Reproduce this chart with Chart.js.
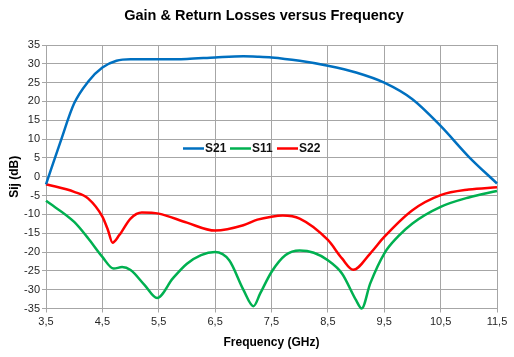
<!DOCTYPE html>
<html>
<head>
<meta charset="utf-8">
<script src="https://cdn.jsdelivr.net/npm/chart.js@4/dist/chart.umd.min.js"></script>
<style>
html,body{margin:0;padding:0;background:#fff;}
#wrap{width:514px;height:357px;}
</style>
</head>
<body>
<div id="wrap"><canvas id="c" width="514" height="357"></canvas></div>
<script>
const titleText = "Gain & Return Losses versus Frequency";
const xTitle = "Frequency (GHz)";
const yTitle = "Sij (dB)";
const seriesNames = ["S21", "S11", "S22"];
const seriesColors = ["#0070C0", "#00B050", "#FF0000"];

const s21Freq = [3.5, 3.75, 4.0, 4.25, 4.5, 4.75, 5.0, 5.5, 6.0, 6.5, 7.0, 7.25, 7.5, 8.0, 8.5, 9.0, 9.5, 10.0, 10.5, 11.0, 11.5];
const s21Vals = [-2, 9, 19.5, 25.3, 29, 30.8, 31.2, 31.2, 31.3, 31.7, 32, 31.9, 31.7, 30.8, 29.5, 27.7, 25, 20.6, 13.5, 5.3, -1.8];

const s11Freq = [3.5, 4.0, 4.25, 4.5, 4.7, 4.85, 5.0, 5.25, 5.47, 5.75, 6.0, 6.25, 6.5, 6.75, 7.0, 7.18, 7.3, 7.5, 7.75, 8.0, 8.25, 8.5, 8.75, 9.0, 9.1, 9.25, 9.5, 9.75, 10.0, 10.5, 11.0, 11.5];
const s11Vals = [-6.4, -12, -16.4, -21.3, -24.4, -24.0, -24.8, -28.8, -32.2, -27, -23.1, -20.8, -20, -22.2, -30, -34.4, -31, -25.3, -20.8, -19.6, -20.2, -22.2, -25.7, -32.8, -35, -28.4, -20.4, -15.8, -12.4, -8, -5.5, -3.8];

const s22Freq = [3.5, 4.0, 4.25, 4.5, 4.6, 4.68, 4.8, 5.0, 5.2, 5.5, 6.0, 6.5, 7.0, 7.25, 7.5, 7.7, 8.0, 8.5, 8.75, 8.95, 9.25, 9.5, 10.0, 10.5, 11.0, 11.5];
const s22Vals = [-2, -4, -5.8, -10.6, -14.2, -17.5, -15.5, -11.1, -9.5, -9.8, -12.2, -14.3, -12.9, -11.4, -10.6, -10.3, -11.1, -16.8, -21.7, -24.7, -20.4, -16, -8.9, -4.9, -3.4, -2.8];

const xMin = 3.5, xMax = 11.5, xStep = 1;
const yMin = -35, yMax = 35, yStep = 5;
const legendLevel = 7.6;

function pts(fs, vs){ return fs.map((f,i)=>({x:f, y:vs[i]})); }

const titleAndLegend = {
  id: 'titleAndLegend',
  afterDatasetsDraw(chart){
    const ctx = chart.ctx;
    ctx.save();
    // title
    ctx.font = 'bold 14.5px "Liberation Sans", Arial, sans-serif';
    ctx.fillStyle = '#000';
    ctx.textAlign = 'center';
    ctx.textBaseline = 'middle';
    ctx.fillText(titleText, 264, 16);
    // inline legend
    const ys = Math.round(chart.scales.y.getPixelForValue(legendLevel)) + 0.5;
    let x = 183;
    ctx.font = 'bold 12px "Liberation Sans", Arial, sans-serif';
    ctx.textAlign = 'left';
    chart.data.datasets.forEach(ds => {
      ctx.strokeStyle = ds.borderColor;
      ctx.lineWidth = 2.5;
      ctx.beginPath();
      ctx.moveTo(x, ys);
      ctx.lineTo(x + 21, ys);
      ctx.stroke();
      ctx.fillStyle = '#111';
      ctx.fillText(ds.label, x + 22, ys + 0.5);
      x += 47;
    });
    ctx.restore();
  }
};

const datasets = [
  {label: seriesNames[0], data: pts(s21Freq, s21Vals), borderColor: seriesColors[0]},
  {label: seriesNames[1], data: pts(s11Freq, s11Vals), borderColor: seriesColors[1]},
  {label: seriesNames[2], data: pts(s22Freq, s22Vals), borderColor: seriesColors[2]}
].map(d => Object.assign(d, {borderWidth: 2.5, pointRadius: 0, fill: false, cubicInterpolationMode: 'monotone', clip: 3}));

new Chart(document.getElementById('c'), {
  type: 'line',
  data: {datasets},
  plugins: [titleAndLegend],
  options: {
    responsive: false,
    devicePixelRatio: 1,
    animation: false,
    layout: {padding: {left: 0, right: 17, top: 45, bottom: 0}},
    plugins: {
      legend: {display: false},
      tooltip: {enabled: false},
      title: {display: false}
    },
    scales: {
      x: {
        type: 'linear',
        min: xMin, max: xMax,
        ticks: {
          stepSize: xStep,
          color: '#262626',
          font: {family: '"Liberation Sans", Arial, sans-serif', size: 11},
          padding: 3,
          maxRotation: 0,
          callback: v => v.toFixed(1).replace('.', ',')
        },
        grid: {color: '#a6a6a6', lineWidth: 1, tickLength: 4, drawTicks: true},
        border: {color: '#a6a6a6'},
        title: {
          display: true, text: xTitle, color: '#000',
          font: {family: '"Liberation Sans", Arial, sans-serif', size: 12, weight: 'bold'},
          padding: {top: 6, bottom: 7}
        },
        afterFit(scale){ scale.height = 48.5; }
      },
      y: {
        min: yMin, max: yMax,
        ticks: {
          stepSize: yStep,
          color: '#262626',
          font: {family: '"Liberation Sans", Arial, sans-serif', size: 11},
          padding: 2
        },
        grid: {color: '#a6a6a6', lineWidth: 1, tickLength: 4},
        border: {color: '#a6a6a6'},
        title: {
          display: true, text: yTitle, color: '#000',
          font: {family: '"Liberation Sans", Arial, sans-serif', size: 12, weight: 'bold'},
          padding: {top: 7, bottom: 0}
        },
        afterFit(scale){ scale.width = 46; }
      }
    }
  }
});
</script>
</body>
</html>
